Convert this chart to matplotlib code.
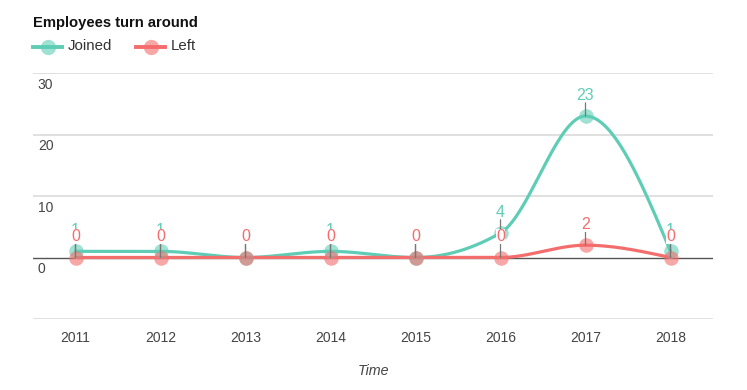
import matplotlib
matplotlib.use('Agg')
import matplotlib.pyplot as plt
from matplotlib.lines import Line2D
import numpy as np

years = ['2011', '2012', '2013', '2014', '2015', '2016', '2017', '2018']
joined = [1, 1, 0, 1, 0, 4, 23, 1]
left = [0, 0, 0, 0, 0, 0, 2, 0]
y_ticks = [-10, 0, 10, 20, 30]
y_tick_labels = ['', '0', '10', '20', '30']

c_joined = '#5fcdb5'
c_left = '#f46d6d'
grey_text = '#444444'

plt.rcParams['font.family'] = ['Liberation Sans', 'DejaVu Sans']


def monotone_x(xs, ys, n=40):
    # d3 curveMonotoneX style interpolation
    xs = np.asarray(xs, float)
    ys = np.asarray(ys, float)
    m = len(xs)
    h = np.diff(xs)
    s = np.diff(ys) / h
    t = np.zeros(m)
    for i in range(1, m - 1):
        h0, h1 = h[i - 1], h[i]
        s0, s1 = s[i - 1], s[i]
        p = (s0 * h1 + s1 * h0) / (h0 + h1)
        t[i] = (np.sign(s0) + np.sign(s1)) * min(abs(s0), abs(s1), 0.5 * abs(p))
    t[0] = (3 * s[0] - t[1]) / 2
    t[-1] = (3 * s[-1] - t[-2]) / 2
    px, py = [], []
    u = np.linspace(0, 1, n)
    for i in range(m - 1):
        x0, x1 = xs[i], xs[i + 1]
        y0, y1 = ys[i], ys[i + 1]
        dx = (x1 - x0) / 3
        cx = [x0, x0 + dx, x1 - dx, x1]
        cy = [y0, y0 + dx * t[i], y1 - dx * t[i + 1], y1]
        b = [(1 - u) ** 3, 3 * u * (1 - u) ** 2, 3 * u ** 2 * (1 - u), u ** 3]
        px.extend(sum(bb * c for bb, c in zip(b, cx)))
        py.extend(sum(bb * c for bb, c in zip(b, cy)))
    return np.array(px), np.array(py)


fig = plt.figure(figsize=(7.47, 3.90), dpi=100)
W, H = 747, 390
ax = fig.add_axes([33 / W, 1 - 319 / H, 680 / W, 246 / H])
ax.set_xlim(-0.5, len(years) - 0.5)
ax.set_ylim(-10, 30)
for sp in ax.spines.values():
    sp.set_visible(False)

for v in y_ticks:
    if v == 0:
        ax.axhline(v, color='#555555', lw=1.0, zorder=1)
    else:
        ax.axhline(v, color='#dddddd', lw=1.3, zorder=0)
for v, lab in zip(y_ticks, y_tick_labels):
    if lab:
        ax.annotate(lab, xy=(0, v), xycoords=('axes fraction', 'data'),
                    xytext=(3.5, -3.5), textcoords='offset points',
                    ha='left', va='top', fontsize=10, color=grey_text)

ax.set_yticks([])
ax.set_xticks(range(len(years)))
ax.set_xticklabels(years, fontsize=10, color=grey_text)
ax.tick_params(axis='x', length=0, pad=8.5)
ax.set_xlabel('Time', fontsize=10.3, style='italic', color=grey_text, labelpad=13.5)

x = np.arange(len(years))
for vals, col in [(joined, c_joined), (left, c_left)]:
    cx, cy = monotone_x(x, vals)
    ax.plot(cx, cy, color=col, lw=2.3, solid_capstyle='round', zorder=3, clip_on=False)
    ax.plot(x, vals, 'o', color=col, ms=10.5, alpha=0.6, mew=0, zorder=4, clip_on=False)

# data labels: small connector up from each point, value above it
for vals, col, bg in [(joined, c_joined, False), (left, c_left, True)]:
    for xi, v in zip(x, vals):
        ax.annotate('', xy=(xi, v), xycoords='data',
                    xytext=(0, 9.5), textcoords='offset points',
                    arrowprops=dict(arrowstyle='-', color='#777777', lw=0.9,
                                    shrinkA=0, shrinkB=0), zorder=5)
        kw = {}
        if bg:
            kw['bbox'] = dict(boxstyle='square,pad=0', fc='white', ec='none')
        ax.annotate(str(v), xy=(xi, v), xytext=(0, 9.6), textcoords='offset points',
                    ha='center', va='bottom', fontsize=11.5, color=col, zorder=6, **kw)

# title and legend
fig.text(33 / W, 1 - 22.5 / H, 'Employees turn around', fontsize=10.6, fontweight='bold',
         color='#111111', ha='left', va='center')
for x0, col, lab in [(33, c_joined, 'Joined'), (136, c_left, 'Left')]:
    fig.add_artist(Line2D([x0 / W, (x0 + 29) / W], [1 - 46.5 / H, 1 - 46.5 / H],
                          color=col, lw=2.8, transform=fig.transFigure))
    fig.add_artist(Line2D([(x0 + 14.5) / W], [1 - 46.5 / H], marker='o', ms=11,
                          color=col, alpha=0.6, mew=0, transform=fig.transFigure))
    fig.text((x0 + 35) / W, 1 - 46.5 / H, lab, fontsize=10.8, color='#333333',
             ha='left', va='center')

fig.savefig('out.png', dpi=100)
